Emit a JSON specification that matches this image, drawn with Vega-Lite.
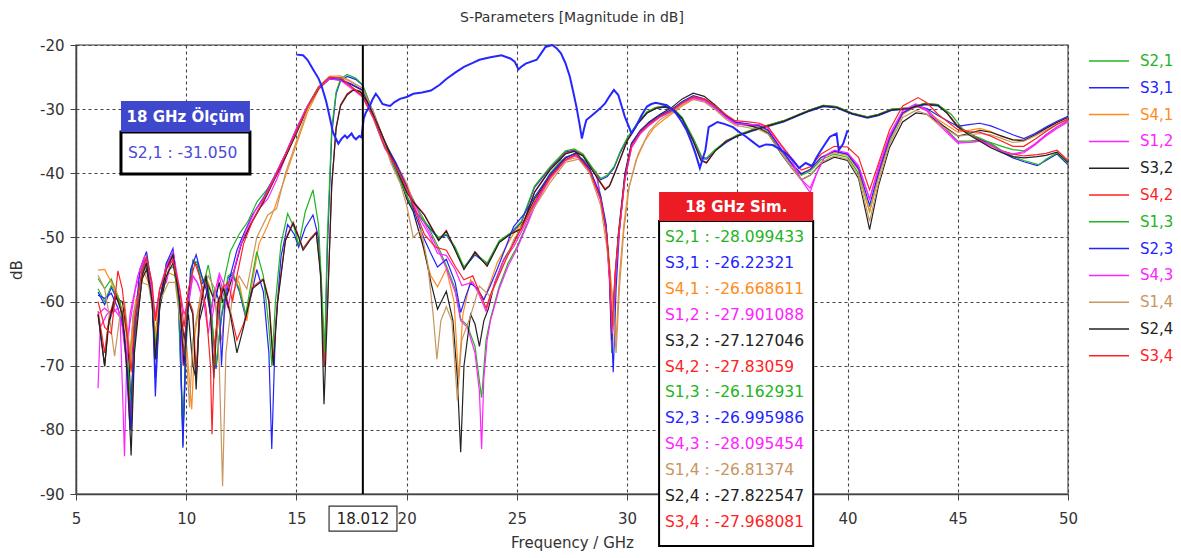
{
"$schema":"https://vega.github.io/schema/vega-lite/v6.json",
"width":992,"height":449,
"autosize":{"type":"none"},
"padding":{"left":76,"top":45,"right":113,"bottom":64},
"background":"white",
"title":{"text":"S-Parameters [Magnitude in dB]","fontSize":14,"fontWeight":"normal","color":"#333333","font":"DejaVu Sans","offset":19,"baseline":"bottom","frame":"group","anchor":"middle","dy":20},
"config":{
 "font":"DejaVu Sans",
 "view":{"stroke":"#7a7a7a","strokeWidth":1.5},
 "axis":{"labelFont":"DejaVu Sans","titleFont":"DejaVu Sans","labelFontSize":15,"titleFontSize":15,"titleFontWeight":"normal","labelColor":"#333333","titleColor":"#333333","domainColor":"#444444","domainWidth":1.5,"tickColor":"#444444","tickSize":6,"gridColor":"#444444","gridDash":[3,3],"gridWidth":1.1,"labelFlush":false,"labelOverlap":false},
 "axisX":{"labelPadding":11,"titlePadding":9},
 "axisY":{"labelPadding":6,"titlePadding":15}
},
"encoding":{
 "x":{"field":"f","type":"quantitative","scale":{"domain":[5,50],"nice":false,"zero":false},"title":"Frequency / GHz","axis":{"values":[5,10,15,20,25,30,35,40,45,50]}},
 "y":{"field":"v","type":"quantitative","scale":{"domain":[-90,-20],"nice":false,"zero":false},"title":"dB","axis":{"values":[-90,-80,-70,-60,-50,-40,-30,-20],"labelExpr":"replace(datum.label, '\u2212', '-')"}}
},
"datasets":{
"sim":[
{"s":"S2,1","f":6,"v":-56.4},{"s":"S2,1","f":6.3,"v":-58},{"s":"S2,1","f":6.6,"v":-56.5},{"s":"S2,1","f":7,"v":-60},{"s":"S2,1","f":7.4,"v":-72},{"s":"S2,1","f":7.6,"v":-62},{"s":"S2,1","f":8,"v":-55.5},{"s":"S2,1","f":8.2,"v":-54.6},{"s":"S2,1","f":8.5,"v":-60},{"s":"S2,1","f":8.65,"v":-69},{"s":"S2,1","f":8.8,"v":-60},{"s":"S2,1","f":9.2,"v":-55},{"s":"S2,1","f":9.45,"v":-54.5},{"s":"S2,1","f":9.7,"v":-62},{"s":"S2,1","f":9.85,"v":-82.5},{"s":"S2,1","f":10,"v":-62},{"s":"S2,1","f":10.3,"v":-54},{"s":"S2,1","f":10.5,"v":-53.8},{"s":"S2,1","f":10.8,"v":-57},{"s":"S2,1","f":11,"v":-54.3},{"s":"S2,1","f":11.2,"v":-58},{"s":"S2,1","f":11.45,"v":-63},{"s":"S2,1","f":11.7,"v":-57},{"s":"S2,1","f":12,"v":-52.2},{"s":"S2,1","f":12.4,"v":-49.5},{"s":"S2,1","f":12.8,"v":-47.5},{"s":"S2,1","f":13.2,"v":-44.5},{"s":"S2,1","f":13.65,"v":-42.6},{"s":"S2,1","f":14.1,"v":-40},{"s":"S2,1","f":14.5,"v":-37},{"s":"S2,1","f":15,"v":-33},{"s":"S2,1","f":15.5,"v":-29.5},{"s":"S2,1","f":16,"v":-26.5},{"s":"S2,1","f":16.5,"v":-25},{"s":"S2,1","f":17,"v":-25.2},{"s":"S2,1","f":17.5,"v":-26.5},{"s":"S2,1","f":18,"v":-28.1},{"s":"S2,1","f":18.5,"v":-31.5},{"s":"S2,1","f":19,"v":-36},{"s":"S2,1","f":19.5,"v":-38.7},{"s":"S2,1","f":20,"v":-42},{"s":"S2,1","f":20.5,"v":-45.5},{"s":"S2,1","f":21,"v":-48.5},{"s":"S2,1","f":21.5,"v":-52},{"s":"S2,1","f":21.8,"v":-54.4},{"s":"S2,1","f":22.2,"v":-58},{"s":"S2,1","f":22.45,"v":-62.7},{"s":"S2,1","f":22.75,"v":-63.7},{"s":"S2,1","f":23.1,"v":-67},{"s":"S2,1","f":23.4,"v":-75},{"s":"S2,1","f":23.6,"v":-66},{"s":"S2,1","f":23.8,"v":-62.7},{"s":"S2,1","f":24.2,"v":-57.6},{"s":"S2,1","f":24.6,"v":-54},{"s":"S2,1","f":25,"v":-51.5},{"s":"S2,1","f":25.5,"v":-47.5},{"s":"S2,1","f":26,"v":-43},{"s":"S2,1","f":26.5,"v":-40},{"s":"S2,1","f":27,"v":-38},{"s":"S2,1","f":27.6,"v":-37},{"s":"S2,1","f":28,"v":-37.8},{"s":"S2,1","f":28.6,"v":-39.8},{"s":"S2,1","f":29.05,"v":-48.5},{"s":"S2,1","f":29.2,"v":-56},{"s":"S2,1","f":29.3,"v":-68},{"s":"S2,1","f":29.45,"v":-58},{"s":"S2,1","f":29.6,"v":-50},{"s":"S2,1","f":29.9,"v":-40.5},{"s":"S2,1","f":30.2,"v":-35.5},{"s":"S2,1","f":30.6,"v":-33.5},{"s":"S2,1","f":31,"v":-32.2},{"s":"S2,1","f":31.5,"v":-31},{"s":"S2,1","f":32,"v":-30.2},{"s":"S2,1","f":32.5,"v":-28.9},{"s":"S2,1","f":33,"v":-28.1},{"s":"S2,1","f":33.5,"v":-28.6},{"s":"S2,1","f":34,"v":-29.8},{"s":"S2,1","f":34.5,"v":-31.3},{"s":"S2,1","f":34.9,"v":-32.2},{"s":"S2,1","f":35.5,"v":-32.6},{"s":"S2,1","f":36,"v":-32.9},{"s":"S2,1","f":36.4,"v":-33.6},{"s":"S2,1","f":37,"v":-36.6},{"s":"S2,1","f":37.5,"v":-38.9},{"s":"S2,1","f":37.9,"v":-40.3},{"s":"S2,1","f":38.3,"v":-39.7},{"s":"S2,1","f":38.8,"v":-37.9},{"s":"S2,1","f":39.4,"v":-37},{"s":"S2,1","f":40,"v":-37.5},{"s":"S2,1","f":40.5,"v":-40},{"s":"S2,1","f":41,"v":-46},{"s":"S2,1","f":41.4,"v":-40.5},{"s":"S2,1","f":41.9,"v":-35},{"s":"S2,1","f":42.5,"v":-30.8},{"s":"S2,1","f":43.1,"v":-29.3},{"s":"S2,1","f":43.6,"v":-30},{"s":"S2,1","f":44.1,"v":-31.8},{"s":"S2,1","f":45,"v":-35},{"s":"S2,1","f":45.5,"v":-35},{"s":"S2,1","f":46,"v":-34.8},{"s":"S2,1","f":46.5,"v":-35.2},{"s":"S2,1","f":47,"v":-35.8},{"s":"S2,1","f":47.5,"v":-36.3},{"s":"S2,1","f":48,"v":-36.5},{"s":"S2,1","f":48.5,"v":-35.5},{"s":"S2,1","f":49,"v":-34},{"s":"S2,1","f":49.5,"v":-32.8},{"s":"S2,1","f":50,"v":-31.8},
{"s":"S3,1","f":6,"v":-58.5},{"s":"S3,1","f":6.3,"v":-60.5},{"s":"S3,1","f":6.6,"v":-57.8},{"s":"S3,1","f":7,"v":-60.5},{"s":"S3,1","f":7.35,"v":-71},{"s":"S3,1","f":7.5,"v":-80},{"s":"S3,1","f":7.7,"v":-63},{"s":"S3,1","f":8,"v":-55.3},{"s":"S3,1","f":8.2,"v":-53.3},{"s":"S3,1","f":8.45,"v":-58.5},{"s":"S3,1","f":8.6,"v":-72},{"s":"S3,1","f":8.8,"v":-60.5},{"s":"S3,1","f":9.1,"v":-54.3},{"s":"S3,1","f":9.4,"v":-52.8},{"s":"S3,1","f":9.65,"v":-60.5},{"s":"S3,1","f":9.85,"v":-81},{"s":"S3,1","f":10.05,"v":-62.5},{"s":"S3,1","f":10.3,"v":-53.8},{"s":"S3,1","f":10.5,"v":-54.3},{"s":"S3,1","f":10.7,"v":-57.3},{"s":"S3,1","f":10.9,"v":-56.3},{"s":"S3,1","f":11.1,"v":-60.5},{"s":"S3,1","f":11.35,"v":-70.5},{"s":"S3,1","f":11.6,"v":-62.5},{"s":"S3,1","f":11.9,"v":-56.3},{"s":"S3,1","f":12.1,"v":-55.8},{"s":"S3,1","f":12.4,"v":-58.3},{"s":"S3,1","f":12.7,"v":-62.5},{"s":"S3,1","f":13,"v":-58.3},{"s":"S3,1","f":13.2,"v":-55},{"s":"S3,1","f":13.5,"v":-58.5},{"s":"S3,1","f":13.75,"v":-68},{"s":"S3,1","f":13.88,"v":-83},{"s":"S3,1","f":14.05,"v":-64},{"s":"S3,1","f":14.3,"v":-53},{"s":"S3,1","f":14.6,"v":-48},{"s":"S3,1","f":14.9,"v":-49.5},{"s":"S3,1","f":15.1,"v":-51.5},{"s":"S3,1","f":15.4,"v":-48.5},{"s":"S3,1","f":15.75,"v":-46.5},{"s":"S3,1","f":16,"v":-50},{"s":"S3,1","f":16.15,"v":-60},{"s":"S3,1","f":16.28,"v":-70},{"s":"S3,1","f":16.4,"v":-52},{"s":"S3,1","f":16.6,"v":-34},{"s":"S3,1","f":16.8,"v":-27.6},{"s":"S3,1","f":17,"v":-25.6},{"s":"S3,1","f":17.3,"v":-24.9},{"s":"S3,1","f":17.7,"v":-25.4},{"s":"S3,1","f":18,"v":-26.3},{"s":"S3,1","f":18.3,"v":-29},{"s":"S3,1","f":18.6,"v":-32},{"s":"S3,1","f":19,"v":-35.6},{"s":"S3,1","f":19.5,"v":-39.6},{"s":"S3,1","f":20,"v":-43.6},{"s":"S3,1","f":20.3,"v":-45.6},{"s":"S3,1","f":20.8,"v":-47.6},{"s":"S3,1","f":21.45,"v":-50.2},{"s":"S3,1","f":21.8,"v":-49.6},{"s":"S3,1","f":22.2,"v":-51.7},{"s":"S3,1","f":22.6,"v":-54.8},{"s":"S3,1","f":23.1,"v":-52.7},{"s":"S3,1","f":23.65,"v":-54.2},{"s":"S3,1","f":24.2,"v":-50.7},{"s":"S3,1","f":24.7,"v":-49.5},{"s":"S3,1","f":25.2,"v":-47.7},{"s":"S3,1","f":25.8,"v":-42.2},{"s":"S3,1","f":26.5,"v":-39.2},{"s":"S3,1","f":27.2,"v":-36.7},{"s":"S3,1","f":27.6,"v":-36.4},{"s":"S3,1","f":28,"v":-37.2},{"s":"S3,1","f":28.5,"v":-39.7},{"s":"S3,1","f":28.8,"v":-41},{"s":"S3,1","f":29.1,"v":-40.5},{"s":"S3,1","f":29.4,"v":-39.2},{"s":"S3,1","f":29.7,"v":-36.7},{"s":"S3,1","f":30,"v":-34.7},{"s":"S3,1","f":30.5,"v":-32.2},{"s":"S3,1","f":30.9,"v":-30.6},{"s":"S3,1","f":31.3,"v":-29.9},{"s":"S3,1","f":31.7,"v":-29.7},{"s":"S3,1","f":32.1,"v":-30.1},{"s":"S3,1","f":32.5,"v":-31.5},{"s":"S3,1","f":33,"v":-34.7},{"s":"S3,1","f":33.4,"v":-37.7},{"s":"S3,1","f":33.6,"v":-37.8},{"s":"S3,1","f":34,"v":-36.5},{"s":"S3,1","f":34.5,"v":-35.2},{"s":"S3,1","f":35,"v":-34.2},{"s":"S3,1","f":35.7,"v":-33.4},{"s":"S3,1","f":36.4,"v":-32.7},{"s":"S3,1","f":37.1,"v":-32},{"s":"S3,1","f":37.8,"v":-31},{"s":"S3,1","f":38.3,"v":-30.3},{"s":"S3,1","f":38.9,"v":-29.6},{"s":"S3,1","f":39.5,"v":-29.8},{"s":"S3,1","f":40.2,"v":-30.8},{"s":"S3,1","f":40.9,"v":-31.4},{"s":"S3,1","f":41.4,"v":-31},{"s":"S3,1","f":42,"v":-30.2},{"s":"S3,1","f":42.8,"v":-30},{"s":"S3,1","f":43.5,"v":-29.3},{"s":"S3,1","f":44.1,"v":-29.5},{"s":"S3,1","f":44.5,"v":-30.5},{"s":"S3,1","f":45,"v":-32.7},{"s":"S3,1","f":45.5,"v":-33.7},{"s":"S3,1","f":46,"v":-34.7},{"s":"S3,1","f":46.5,"v":-35.5},{"s":"S3,1","f":47,"v":-36.7},{"s":"S3,1","f":47.5,"v":-37.6},{"s":"S3,1","f":48,"v":-38.2},{"s":"S3,1","f":48.6,"v":-38.8},{"s":"S3,1","f":49,"v":-38},{"s":"S3,1","f":49.5,"v":-37},{"s":"S3,1","f":50,"v":-38.7},
{"s":"S4,1","f":6,"v":-55.1},{"s":"S4,1","f":6.3,"v":-55},{"s":"S4,1","f":6.6,"v":-57},{"s":"S4,1","f":6.9,"v":-59},{"s":"S4,1","f":7.2,"v":-63},{"s":"S4,1","f":7.45,"v":-70},{"s":"S4,1","f":7.7,"v":-60},{"s":"S4,1","f":8.1,"v":-55.5},{"s":"S4,1","f":8.4,"v":-58},{"s":"S4,1","f":8.6,"v":-65},{"s":"S4,1","f":8.8,"v":-59},{"s":"S4,1","f":9.2,"v":-55.5},{"s":"S4,1","f":9.5,"v":-56},{"s":"S4,1","f":9.75,"v":-63},{"s":"S4,1","f":10,"v":-66},{"s":"S4,1","f":10.25,"v":-76.8},{"s":"S4,1","f":10.4,"v":-65},{"s":"S4,1","f":10.7,"v":-58},{"s":"S4,1","f":11,"v":-57},{"s":"S4,1","f":11.3,"v":-60},{"s":"S4,1","f":11.6,"v":-66},{"s":"S4,1","f":11.8,"v":-60},{"s":"S4,1","f":12.1,"v":-56},{"s":"S4,1","f":12.4,"v":-57},{"s":"S4,1","f":12.75,"v":-63},{"s":"S4,1","f":13,"v":-57},{"s":"S4,1","f":13.3,"v":-51},{"s":"S4,1","f":13.65,"v":-48.5},{"s":"S4,1","f":14,"v":-45.5},{"s":"S4,1","f":14.3,"v":-42.5},{"s":"S4,1","f":14.7,"v":-38.5},{"s":"S4,1","f":15.1,"v":-34.5},{"s":"S4,1","f":15.5,"v":-30.5},{"s":"S4,1","f":16,"v":-27},{"s":"S4,1","f":16.5,"v":-25.2},{"s":"S4,1","f":17,"v":-25},{"s":"S4,1","f":17.5,"v":-25.8},{"s":"S4,1","f":18,"v":-26.7},{"s":"S4,1","f":18.5,"v":-30.5},{"s":"S4,1","f":19,"v":-35},{"s":"S4,1","f":19.5,"v":-38.3},{"s":"S4,1","f":20,"v":-41.5},{"s":"S4,1","f":20.5,"v":-46.5},{"s":"S4,1","f":20.8,"v":-52.4},{"s":"S4,1","f":21.1,"v":-56},{"s":"S4,1","f":21.4,"v":-57.7},{"s":"S4,1","f":21.8,"v":-54.9},{"s":"S4,1","f":22.15,"v":-60},{"s":"S4,1","f":22.35,"v":-72},{"s":"S4,1","f":22.55,"v":-62},{"s":"S4,1","f":22.9,"v":-56.6},{"s":"S4,1","f":23.2,"v":-58},{"s":"S4,1","f":23.5,"v":-59.7},{"s":"S4,1","f":23.8,"v":-57},{"s":"S4,1","f":24.1,"v":-54},{"s":"S4,1","f":24.5,"v":-51.5},{"s":"S4,1","f":24.85,"v":-49.4},{"s":"S4,1","f":25.3,"v":-47.5},{"s":"S4,1","f":25.8,"v":-45},{"s":"S4,1","f":26.5,"v":-41},{"s":"S4,1","f":27.2,"v":-38},{"s":"S4,1","f":27.8,"v":-37.5},{"s":"S4,1","f":28.3,"v":-39.5},{"s":"S4,1","f":28.8,"v":-44},{"s":"S4,1","f":29.1,"v":-50},{"s":"S4,1","f":29.35,"v":-60},{"s":"S4,1","f":29.5,"v":-66},{"s":"S4,1","f":29.65,"v":-56},{"s":"S4,1","f":29.85,"v":-48},{"s":"S4,1","f":30.05,"v":-42.7},{"s":"S4,1","f":30.4,"v":-38},{"s":"S4,1","f":30.8,"v":-35},{"s":"S4,1","f":31.2,"v":-33},{"s":"S4,1","f":31.6,"v":-31.8},{"s":"S4,1","f":32,"v":-30.8},{"s":"S4,1","f":32.5,"v":-29.5},{"s":"S4,1","f":33,"v":-28.5},{"s":"S4,1","f":33.5,"v":-28.6},{"s":"S4,1","f":34,"v":-29.6},{"s":"S4,1","f":34.5,"v":-31},{"s":"S4,1","f":34.9,"v":-32},{"s":"S4,1","f":35.5,"v":-32.4},{"s":"S4,1","f":36,"v":-32.7},{"s":"S4,1","f":36.4,"v":-33.4},{"s":"S4,1","f":37,"v":-36.4},{"s":"S4,1","f":37.5,"v":-38.6},{"s":"S4,1","f":37.9,"v":-40},{"s":"S4,1","f":38.3,"v":-39.4},{"s":"S4,1","f":38.8,"v":-37.6},{"s":"S4,1","f":39.4,"v":-36.8},{"s":"S4,1","f":40,"v":-37.2},{"s":"S4,1","f":40.5,"v":-39.5},{"s":"S4,1","f":41,"v":-46},{"s":"S4,1","f":41.4,"v":-40.5},{"s":"S4,1","f":41.9,"v":-34.8},{"s":"S4,1","f":42.5,"v":-30.8},{"s":"S4,1","f":43.1,"v":-29.6},{"s":"S4,1","f":43.6,"v":-30.2},{"s":"S4,1","f":44.1,"v":-31.6},{"s":"S4,1","f":45,"v":-33.6},{"s":"S4,1","f":45.5,"v":-33.3},{"s":"S4,1","f":46,"v":-33},{"s":"S4,1","f":46.5,"v":-33.5},{"s":"S4,1","f":47,"v":-34.3},{"s":"S4,1","f":47.5,"v":-34.8},{"s":"S4,1","f":48,"v":-34.8},{"s":"S4,1","f":48.5,"v":-34},{"s":"S4,1","f":49,"v":-33},{"s":"S4,1","f":49.5,"v":-32},{"s":"S4,1","f":50,"v":-31.3},
{"s":"S1,2","f":6,"v":-73.5},{"s":"S1,2","f":6.1,"v":-64},{"s":"S1,2","f":6.4,"v":-62},{"s":"S1,2","f":6.7,"v":-61},{"s":"S1,2","f":7,"v":-62.5},{"s":"S1,2","f":7.12,"v":-75},{"s":"S1,2","f":7.2,"v":-84.1},{"s":"S1,2","f":7.32,"v":-66},{"s":"S1,2","f":7.7,"v":-58},{"s":"S1,2","f":8.1,"v":-53.5},{"s":"S1,2","f":8.4,"v":-57},{"s":"S1,2","f":8.55,"v":-63},{"s":"S1,2","f":8.8,"v":-58},{"s":"S1,2","f":9.1,"v":-57},{"s":"S1,2","f":9.35,"v":-53},{"s":"S1,2","f":9.55,"v":-56},{"s":"S1,2","f":9.7,"v":-60},{"s":"S1,2","f":9.85,"v":-70},{"s":"S1,2","f":10,"v":-63},{"s":"S1,2","f":10.3,"v":-56},{"s":"S1,2","f":10.5,"v":-57},{"s":"S1,2","f":10.7,"v":-59},{"s":"S1,2","f":10.9,"v":-57},{"s":"S1,2","f":11.15,"v":-63},{"s":"S1,2","f":11.5,"v":-56},{"s":"S1,2","f":11.7,"v":-59},{"s":"S1,2","f":11.9,"v":-61},{"s":"S1,2","f":12.2,"v":-55},{"s":"S1,2","f":12.5,"v":-51},{"s":"S1,2","f":12.9,"v":-48},{"s":"S1,2","f":13.3,"v":-45.5},{"s":"S1,2","f":13.7,"v":-44},{"s":"S1,2","f":14.1,"v":-41},{"s":"S1,2","f":14.5,"v":-37.5},{"s":"S1,2","f":15,"v":-33.5},{"s":"S1,2","f":15.5,"v":-29.8},{"s":"S1,2","f":16,"v":-26.8},{"s":"S1,2","f":16.5,"v":-25.2},{"s":"S1,2","f":17,"v":-25.4},{"s":"S1,2","f":17.5,"v":-26.6},{"s":"S1,2","f":18,"v":-27.9},{"s":"S1,2","f":18.5,"v":-31.2},{"s":"S1,2","f":19,"v":-35.8},{"s":"S1,2","f":19.5,"v":-38.8},{"s":"S1,2","f":20,"v":-42.2},{"s":"S1,2","f":20.5,"v":-45.8},{"s":"S1,2","f":21,"v":-49},{"s":"S1,2","f":21.5,"v":-52.5},{"s":"S1,2","f":21.8,"v":-54.8},{"s":"S1,2","f":22.2,"v":-58.5},{"s":"S1,2","f":22.45,"v":-63},{"s":"S1,2","f":22.75,"v":-64},{"s":"S1,2","f":23.1,"v":-68},{"s":"S1,2","f":23.3,"v":-74},{"s":"S1,2","f":23.4,"v":-83},{"s":"S1,2","f":23.5,"v":-72},{"s":"S1,2","f":23.65,"v":-66},{"s":"S1,2","f":23.8,"v":-63},{"s":"S1,2","f":24.2,"v":-58},{"s":"S1,2","f":24.6,"v":-54.5},{"s":"S1,2","f":25,"v":-51.8},{"s":"S1,2","f":25.5,"v":-47.8},{"s":"S1,2","f":26,"v":-43.5},{"s":"S1,2","f":26.5,"v":-40.3},{"s":"S1,2","f":27,"v":-38.3},{"s":"S1,2","f":27.6,"v":-37.2},{"s":"S1,2","f":28,"v":-38},{"s":"S1,2","f":28.6,"v":-40},{"s":"S1,2","f":29.05,"v":-49},{"s":"S1,2","f":29.2,"v":-57},{"s":"S1,2","f":29.3,"v":-67},{"s":"S1,2","f":29.45,"v":-57},{"s":"S1,2","f":29.6,"v":-50.5},{"s":"S1,2","f":29.9,"v":-41},{"s":"S1,2","f":30.2,"v":-36},{"s":"S1,2","f":30.6,"v":-33.8},{"s":"S1,2","f":31,"v":-32.5},{"s":"S1,2","f":31.5,"v":-31.2},{"s":"S1,2","f":32,"v":-30.4},{"s":"S1,2","f":32.5,"v":-29.1},{"s":"S1,2","f":33,"v":-28.3},{"s":"S1,2","f":33.5,"v":-28.7},{"s":"S1,2","f":34,"v":-29.9},{"s":"S1,2","f":34.5,"v":-31.4},{"s":"S1,2","f":34.9,"v":-32.3},{"s":"S1,2","f":35.5,"v":-32.5},{"s":"S1,2","f":36,"v":-32.6},{"s":"S1,2","f":36.4,"v":-33.3},{"s":"S1,2","f":37,"v":-36.3},{"s":"S1,2","f":37.5,"v":-38.8},{"s":"S1,2","f":38,"v":-41.5},{"s":"S1,2","f":38.3,"v":-43},{"s":"S1,2","f":38.6,"v":-40},{"s":"S1,2","f":39,"v":-37.2},{"s":"S1,2","f":39.4,"v":-36.5},{"s":"S1,2","f":40,"v":-37},{"s":"S1,2","f":40.5,"v":-39},{"s":"S1,2","f":41,"v":-44},{"s":"S1,2","f":41.4,"v":-39.5},{"s":"S1,2","f":41.9,"v":-34.3},{"s":"S1,2","f":42.5,"v":-30.5},{"s":"S1,2","f":43.1,"v":-29.4},{"s":"S1,2","f":43.6,"v":-30.3},{"s":"S1,2","f":44.1,"v":-32.3},{"s":"S1,2","f":45,"v":-35.3},{"s":"S1,2","f":45.5,"v":-35.2},{"s":"S1,2","f":46,"v":-35},{"s":"S1,2","f":46.5,"v":-35.5},{"s":"S1,2","f":47,"v":-36.5},{"s":"S1,2","f":47.5,"v":-37.1},{"s":"S1,2","f":48,"v":-36.8},{"s":"S1,2","f":48.5,"v":-35.6},{"s":"S1,2","f":49,"v":-34.2},{"s":"S1,2","f":49.5,"v":-33},{"s":"S1,2","f":50,"v":-32},
{"s":"S3,2","f":6,"v":-62},{"s":"S3,2","f":6.15,"v":-66},{"s":"S3,2","f":6.3,"v":-70.1},{"s":"S3,2","f":6.45,"v":-64},{"s":"S3,2","f":6.8,"v":-59.5},{"s":"S3,2","f":7.1,"v":-60},{"s":"S3,2","f":7.35,"v":-66},{"s":"S3,2","f":7.5,"v":-76},{"s":"S3,2","f":7.65,"v":-66},{"s":"S3,2","f":8,"v":-56.5},{"s":"S3,2","f":8.2,"v":-55},{"s":"S3,2","f":8.45,"v":-60},{"s":"S3,2","f":8.6,"v":-69},{"s":"S3,2","f":8.8,"v":-61},{"s":"S3,2","f":9.1,"v":-56},{"s":"S3,2","f":9.4,"v":-54},{"s":"S3,2","f":9.7,"v":-60},{"s":"S3,2","f":9.9,"v":-66},{"s":"S3,2","f":10.1,"v":-62},{"s":"S3,2","f":10.3,"v":-70},{"s":"S3,2","f":10.45,"v":-72},{"s":"S3,2","f":10.6,"v":-63},{"s":"S3,2","f":11,"v":-57.5},{"s":"S3,2","f":11.3,"v":-60},{"s":"S3,2","f":11.5,"v":-57},{"s":"S3,2","f":11.65,"v":-60},{"s":"S3,2","f":11.85,"v":-59},{"s":"S3,2","f":12.1,"v":-56},{"s":"S3,2","f":12.5,"v":-51},{"s":"S3,2","f":13,"v":-47.5},{"s":"S3,2","f":13.5,"v":-44.5},{"s":"S3,2","f":14,"v":-41},{"s":"S3,2","f":14.5,"v":-37.5},{"s":"S3,2","f":15,"v":-33.8},{"s":"S3,2","f":15.5,"v":-29.8},{"s":"S3,2","f":16,"v":-26.8},{"s":"S3,2","f":16.5,"v":-25.3},{"s":"S3,2","f":17,"v":-25.5},{"s":"S3,2","f":17.5,"v":-26.2},{"s":"S3,2","f":18,"v":-27.1},{"s":"S3,2","f":18.5,"v":-30.8},{"s":"S3,2","f":19,"v":-35.5},{"s":"S3,2","f":19.5,"v":-38.5},{"s":"S3,2","f":20,"v":-44},{"s":"S3,2","f":20.3,"v":-46},{"s":"S3,2","f":20.8,"v":-52},{"s":"S3,2","f":21.1,"v":-57},{"s":"S3,2","f":21.4,"v":-61.2},{"s":"S3,2","f":21.8,"v":-58.4},{"s":"S3,2","f":22.1,"v":-63},{"s":"S3,2","f":22.3,"v":-72},{"s":"S3,2","f":22.45,"v":-83.5},{"s":"S3,2","f":22.6,"v":-70},{"s":"S3,2","f":22.9,"v":-62},{"s":"S3,2","f":23.1,"v":-63.5},{"s":"S3,2","f":23.3,"v":-67},{"s":"S3,2","f":23.5,"v":-63},{"s":"S3,2","f":23.7,"v":-61.2},{"s":"S3,2","f":24,"v":-57},{"s":"S3,2","f":24.4,"v":-53.5},{"s":"S3,2","f":24.85,"v":-50.9},{"s":"S3,2","f":25.3,"v":-47.5},{"s":"S3,2","f":25.8,"v":-44},{"s":"S3,2","f":26.5,"v":-40.5},{"s":"S3,2","f":27.2,"v":-37.6},{"s":"S3,2","f":27.7,"v":-36.8},{"s":"S3,2","f":28.3,"v":-39.3},{"s":"S3,2","f":28.8,"v":-44},{"s":"S3,2","f":29.05,"v":-48.5},{"s":"S3,2","f":29.2,"v":-55},{"s":"S3,2","f":29.3,"v":-66},{"s":"S3,2","f":29.45,"v":-56},{"s":"S3,2","f":29.6,"v":-49.5},{"s":"S3,2","f":29.9,"v":-40},{"s":"S3,2","f":30.2,"v":-35.3},{"s":"S3,2","f":30.6,"v":-33.3},{"s":"S3,2","f":31,"v":-32},{"s":"S3,2","f":31.5,"v":-30.8},{"s":"S3,2","f":32,"v":-29.8},{"s":"S3,2","f":32.5,"v":-28.4},{"s":"S3,2","f":33,"v":-27.5},{"s":"S3,2","f":33.5,"v":-28},{"s":"S3,2","f":34,"v":-29.4},{"s":"S3,2","f":34.5,"v":-31},{"s":"S3,2","f":34.9,"v":-32},{"s":"S3,2","f":35.5,"v":-32.5},{"s":"S3,2","f":36,"v":-33},{"s":"S3,2","f":36.4,"v":-33.8},{"s":"S3,2","f":37,"v":-37},{"s":"S3,2","f":37.5,"v":-39.3},{"s":"S3,2","f":37.9,"v":-41},{"s":"S3,2","f":38.3,"v":-40.3},{"s":"S3,2","f":38.8,"v":-38.5},{"s":"S3,2","f":39.4,"v":-37.5},{"s":"S3,2","f":40,"v":-38},{"s":"S3,2","f":40.5,"v":-40.8},{"s":"S3,2","f":41,"v":-48.8},{"s":"S3,2","f":41.4,"v":-42},{"s":"S3,2","f":41.9,"v":-36},{"s":"S3,2","f":42.5,"v":-32},{"s":"S3,2","f":43.1,"v":-30.6},{"s":"S3,2","f":43.6,"v":-30.8},{"s":"S3,2","f":44.1,"v":-32},{"s":"S3,2","f":45,"v":-34.2},{"s":"S3,2","f":45.5,"v":-33.8},{"s":"S3,2","f":46,"v":-33.3},{"s":"S3,2","f":46.5,"v":-33.6},{"s":"S3,2","f":47,"v":-34.2},{"s":"S3,2","f":47.5,"v":-34.8},{"s":"S3,2","f":48,"v":-34.9},{"s":"S3,2","f":48.5,"v":-34},{"s":"S3,2","f":49,"v":-33},{"s":"S3,2","f":49.5,"v":-32.1},{"s":"S3,2","f":50,"v":-31.3},
{"s":"S4,2","f":6,"v":-61.5},{"s":"S4,2","f":6.3,"v":-68},{"s":"S4,2","f":6.5,"v":-62.5},{"s":"S4,2","f":6.8,"v":-58.7},{"s":"S4,2","f":7.1,"v":-61.5},{"s":"S4,2","f":7.35,"v":-71},{"s":"S4,2","f":7.5,"v":-78},{"s":"S4,2","f":7.65,"v":-67},{"s":"S4,2","f":8,"v":-55.7},{"s":"S4,2","f":8.2,"v":-53.8},{"s":"S4,2","f":8.45,"v":-59.5},{"s":"S4,2","f":8.6,"v":-68},{"s":"S4,2","f":8.8,"v":-59.7},{"s":"S4,2","f":9.1,"v":-54.8},{"s":"S4,2","f":9.4,"v":-52.6},{"s":"S4,2","f":9.7,"v":-59.5},{"s":"S4,2","f":9.9,"v":-68},{"s":"S4,2","f":10.1,"v":-59.5},{"s":"S4,2","f":10.3,"v":-61.5},{"s":"S4,2","f":10.45,"v":-71},{"s":"S4,2","f":10.6,"v":-61.5},{"s":"S4,2","f":10.9,"v":-55.8},{"s":"S4,2","f":11.1,"v":-61.5},{"s":"S4,2","f":11.25,"v":-70},{"s":"S4,2","f":11.45,"v":-59.7},{"s":"S4,2","f":11.7,"v":-57.8},{"s":"S4,2","f":12,"v":-61.5},{"s":"S4,2","f":12.3,"v":-66},{"s":"S4,2","f":12.6,"v":-63.5},{"s":"S4,2","f":13,"v":-57.8},{"s":"S4,2","f":13.5,"v":-56.4},{"s":"S4,2","f":13.75,"v":-59.7},{"s":"S4,2","f":13.95,"v":-69},{"s":"S4,2","f":14.15,"v":-59.7},{"s":"S4,2","f":14.5,"v":-50.3},{"s":"S4,2","f":14.85,"v":-47.6},{"s":"S4,2","f":15.1,"v":-49.8},{"s":"S4,2","f":15.3,"v":-51.7},{"s":"S4,2","f":15.6,"v":-50.3},{"s":"S4,2","f":15.9,"v":-49.1},{"s":"S4,2","f":16.1,"v":-55.5},{"s":"S4,2","f":16.25,"v":-70},{"s":"S4,2","f":16.4,"v":-61.5},{"s":"S4,2","f":16.6,"v":-41.8},{"s":"S4,2","f":16.8,"v":-32.8},{"s":"S4,2","f":17,"v":-29.3},{"s":"S4,2","f":17.3,"v":-27.6},{"s":"S4,2","f":17.6,"v":-26.9},{"s":"S4,2","f":17.9,"v":-27.2},{"s":"S4,2","f":18.2,"v":-28.7},{"s":"S4,2","f":18.5,"v":-30.9},{"s":"S4,2","f":19,"v":-34.9},{"s":"S4,2","f":19.5,"v":-38.9},{"s":"S4,2","f":20,"v":-42.9},{"s":"S4,2","f":20.3,"v":-44.4},{"s":"S4,2","f":20.8,"v":-46.4},{"s":"S4,2","f":21.45,"v":-50.4},{"s":"S4,2","f":21.8,"v":-48.9},{"s":"S4,2","f":22.2,"v":-51.9},{"s":"S4,2","f":22.6,"v":-54.9},{"s":"S4,2","f":23.1,"v":-52.2},{"s":"S4,2","f":23.65,"v":-54.4},{"s":"S4,2","f":24.2,"v":-50.7},{"s":"S4,2","f":24.7,"v":-49.4},{"s":"S4,2","f":25.2,"v":-48.6},{"s":"S4,2","f":25.8,"v":-42.9},{"s":"S4,2","f":26.5,"v":-39.4},{"s":"S4,2","f":27.2,"v":-36.9},{"s":"S4,2","f":27.6,"v":-36.5},{"s":"S4,2","f":28,"v":-37.2},{"s":"S4,2","f":28.5,"v":-39.9},{"s":"S4,2","f":29,"v":-42.4},{"s":"S4,2","f":29.2,"v":-41.9},{"s":"S4,2","f":29.5,"v":-39.4},{"s":"S4,2","f":30,"v":-34.9},{"s":"S4,2","f":30.5,"v":-32.1},{"s":"S4,2","f":30.9,"v":-30.5},{"s":"S4,2","f":31.3,"v":-29.8},{"s":"S4,2","f":31.7,"v":-29.5},{"s":"S4,2","f":32.1,"v":-29.9},{"s":"S4,2","f":32.5,"v":-31.4},{"s":"S4,2","f":33,"v":-34.9},{"s":"S4,2","f":33.35,"v":-37.9},{"s":"S4,2","f":33.6,"v":-38.3},{"s":"S4,2","f":34,"v":-36.4},{"s":"S4,2","f":34.5,"v":-34.9},{"s":"S4,2","f":35,"v":-34.1},{"s":"S4,2","f":35.7,"v":-33.2},{"s":"S4,2","f":36.4,"v":-32.5},{"s":"S4,2","f":37.1,"v":-31.8},{"s":"S4,2","f":37.8,"v":-30.8},{"s":"S4,2","f":38.3,"v":-30.1},{"s":"S4,2","f":38.9,"v":-29.4},{"s":"S4,2","f":39.5,"v":-29.6},{"s":"S4,2","f":40.2,"v":-30.6},{"s":"S4,2","f":40.9,"v":-31.2},{"s":"S4,2","f":41.4,"v":-30.8},{"s":"S4,2","f":42,"v":-30},{"s":"S4,2","f":42.8,"v":-29.8},{"s":"S4,2","f":43.5,"v":-29.1},{"s":"S4,2","f":44.1,"v":-29.3},{"s":"S4,2","f":44.5,"v":-30.5},{"s":"S4,2","f":45,"v":-32.6},{"s":"S4,2","f":45.5,"v":-33.8},{"s":"S4,2","f":46,"v":-34.8},{"s":"S4,2","f":46.5,"v":-35.7},{"s":"S4,2","f":47,"v":-36.5},{"s":"S4,2","f":47.5,"v":-37},{"s":"S4,2","f":48,"v":-37.3},{"s":"S4,2","f":48.6,"v":-37.1},{"s":"S4,2","f":49,"v":-36.9},{"s":"S4,2","f":49.5,"v":-36.4},{"s":"S4,2","f":50,"v":-38},
{"s":"S1,3","f":6,"v":-58},{"s":"S1,3","f":6.3,"v":-60},{"s":"S1,3","f":6.6,"v":-57.5},{"s":"S1,3","f":7,"v":-60},{"s":"S1,3","f":7.35,"v":-70},{"s":"S1,3","f":7.5,"v":-76},{"s":"S1,3","f":7.7,"v":-62},{"s":"S1,3","f":8,"v":-55},{"s":"S1,3","f":8.2,"v":-53},{"s":"S1,3","f":8.45,"v":-58},{"s":"S1,3","f":8.6,"v":-69},{"s":"S1,3","f":8.8,"v":-60},{"s":"S1,3","f":9.1,"v":-54},{"s":"S1,3","f":9.4,"v":-52.5},{"s":"S1,3","f":9.65,"v":-60},{"s":"S1,3","f":9.85,"v":-80},{"s":"S1,3","f":10.05,"v":-62},{"s":"S1,3","f":10.3,"v":-53.5},{"s":"S1,3","f":10.5,"v":-54},{"s":"S1,3","f":10.7,"v":-57},{"s":"S1,3","f":10.9,"v":-56},{"s":"S1,3","f":11.1,"v":-60},{"s":"S1,3","f":11.35,"v":-70},{"s":"S1,3","f":11.6,"v":-62},{"s":"S1,3","f":11.9,"v":-56},{"s":"S1,3","f":12.1,"v":-55.5},{"s":"S1,3","f":12.4,"v":-58},{"s":"S1,3","f":12.7,"v":-62},{"s":"S1,3","f":13,"v":-56},{"s":"S1,3","f":13.2,"v":-52.2},{"s":"S1,3","f":13.5,"v":-56},{"s":"S1,3","f":13.75,"v":-64},{"s":"S1,3","f":13.88,"v":-70},{"s":"S1,3","f":14.05,"v":-60},{"s":"S1,3","f":14.3,"v":-51},{"s":"S1,3","f":14.6,"v":-46.3},{"s":"S1,3","f":14.9,"v":-48.5},{"s":"S1,3","f":15.1,"v":-51.2},{"s":"S1,3","f":15.4,"v":-46},{"s":"S1,3","f":15.75,"v":-42.6},{"s":"S1,3","f":16,"v":-48},{"s":"S1,3","f":16.15,"v":-58},{"s":"S1,3","f":16.28,"v":-68},{"s":"S1,3","f":16.4,"v":-50},{"s":"S1,3","f":16.6,"v":-33},{"s":"S1,3","f":16.8,"v":-27.3},{"s":"S1,3","f":17,"v":-25.3},{"s":"S1,3","f":17.3,"v":-24.6},{"s":"S1,3","f":17.7,"v":-25.2},{"s":"S1,3","f":18,"v":-26.2},{"s":"S1,3","f":18.3,"v":-28.8},{"s":"S1,3","f":18.6,"v":-31.8},{"s":"S1,3","f":19,"v":-35.5},{"s":"S1,3","f":19.5,"v":-39.5},{"s":"S1,3","f":20,"v":-43.5},{"s":"S1,3","f":20.3,"v":-45.5},{"s":"S1,3","f":20.8,"v":-47.5},{"s":"S1,3","f":21.45,"v":-50},{"s":"S1,3","f":21.8,"v":-49.5},{"s":"S1,3","f":22.2,"v":-51.5},{"s":"S1,3","f":22.6,"v":-54.6},{"s":"S1,3","f":23.1,"v":-52.5},{"s":"S1,3","f":23.65,"v":-54},{"s":"S1,3","f":24.2,"v":-50.5},{"s":"S1,3","f":24.7,"v":-49.3},{"s":"S1,3","f":25.2,"v":-47.5},{"s":"S1,3","f":25.8,"v":-42},{"s":"S1,3","f":26.5,"v":-39},{"s":"S1,3","f":27.2,"v":-36.5},{"s":"S1,3","f":27.6,"v":-36.2},{"s":"S1,3","f":28,"v":-37},{"s":"S1,3","f":28.5,"v":-39.5},{"s":"S1,3","f":28.8,"v":-40.8},{"s":"S1,3","f":29.1,"v":-40.3},{"s":"S1,3","f":29.4,"v":-39},{"s":"S1,3","f":29.7,"v":-36.5},{"s":"S1,3","f":30,"v":-34.5},{"s":"S1,3","f":30.5,"v":-32},{"s":"S1,3","f":30.9,"v":-30.4},{"s":"S1,3","f":31.3,"v":-29.7},{"s":"S1,3","f":31.7,"v":-29.5},{"s":"S1,3","f":32.1,"v":-29.9},{"s":"S1,3","f":32.5,"v":-31.3},{"s":"S1,3","f":33,"v":-34.5},{"s":"S1,3","f":33.4,"v":-37.5},{"s":"S1,3","f":33.6,"v":-37.6},{"s":"S1,3","f":34,"v":-36.3},{"s":"S1,3","f":34.5,"v":-35},{"s":"S1,3","f":35,"v":-34},{"s":"S1,3","f":35.7,"v":-33.2},{"s":"S1,3","f":36.4,"v":-32.5},{"s":"S1,3","f":37.1,"v":-31.8},{"s":"S1,3","f":37.8,"v":-30.8},{"s":"S1,3","f":38.3,"v":-30.1},{"s":"S1,3","f":38.9,"v":-29.4},{"s":"S1,3","f":39.5,"v":-29.6},{"s":"S1,3","f":40.2,"v":-30.6},{"s":"S1,3","f":40.9,"v":-31.2},{"s":"S1,3","f":41.4,"v":-30.8},{"s":"S1,3","f":42,"v":-30},{"s":"S1,3","f":42.8,"v":-29.8},{"s":"S1,3","f":43.5,"v":-29.1},{"s":"S1,3","f":44.1,"v":-29.3},{"s":"S1,3","f":44.7,"v":-30.8},{"s":"S1,3","f":45.2,"v":-33},{"s":"S1,3","f":45.6,"v":-34},{"s":"S1,3","f":46,"v":-34.5},{"s":"S1,3","f":46.5,"v":-35.3},{"s":"S1,3","f":47,"v":-36.5},{"s":"S1,3","f":47.5,"v":-37.4},{"s":"S1,3","f":48,"v":-38},{"s":"S1,3","f":48.7,"v":-38.7},{"s":"S1,3","f":49,"v":-37.8},{"s":"S1,3","f":49.5,"v":-36.8},{"s":"S1,3","f":50,"v":-38.5},
{"s":"S2,3","f":6,"v":-59},{"s":"S2,3","f":6.3,"v":-59.5},{"s":"S2,3","f":6.6,"v":-58.7},{"s":"S2,3","f":6.9,"v":-61},{"s":"S2,3","f":7.2,"v":-65},{"s":"S2,3","f":7.45,"v":-80},{"s":"S2,3","f":7.65,"v":-64},{"s":"S2,3","f":7.9,"v":-55},{"s":"S2,3","f":8.2,"v":-52.2},{"s":"S2,3","f":8.45,"v":-58},{"s":"S2,3","f":8.6,"v":-74.8},{"s":"S2,3","f":8.8,"v":-60},{"s":"S2,3","f":9.1,"v":-54},{"s":"S2,3","f":9.4,"v":-51.7},{"s":"S2,3","f":9.7,"v":-60},{"s":"S2,3","f":9.85,"v":-82.8},{"s":"S2,3","f":10,"v":-65},{"s":"S2,3","f":10.2,"v":-55},{"s":"S2,3","f":10.45,"v":-52.7},{"s":"S2,3","f":10.7,"v":-56},{"s":"S2,3","f":10.9,"v":-58},{"s":"S2,3","f":11.1,"v":-62},{"s":"S2,3","f":11.3,"v":-58},{"s":"S2,3","f":11.5,"v":-60},{"s":"S2,3","f":11.6,"v":-70},{"s":"S2,3","f":11.75,"v":-60},{"s":"S2,3","f":12,"v":-56},{"s":"S2,3","f":12.3,"v":-52},{"s":"S2,3","f":12.6,"v":-49.5},{"s":"S2,3","f":13,"v":-46.5},{"s":"S2,3","f":13.5,"v":-43.8},{"s":"S2,3","f":14,"v":-40.5},{"s":"S2,3","f":14.5,"v":-37},{"s":"S2,3","f":15,"v":-33.2},{"s":"S2,3","f":15.5,"v":-29.6},{"s":"S2,3","f":16,"v":-26.6},{"s":"S2,3","f":16.5,"v":-25.2},{"s":"S2,3","f":17,"v":-25.4},{"s":"S2,3","f":17.5,"v":-26.1},{"s":"S2,3","f":18,"v":-27},{"s":"S2,3","f":18.5,"v":-30.6},{"s":"S2,3","f":19,"v":-35.2},{"s":"S2,3","f":19.5,"v":-38.3},{"s":"S2,3","f":20,"v":-42},{"s":"S2,3","f":20.4,"v":-46.5},{"s":"S2,3","f":20.8,"v":-50.3},{"s":"S2,3","f":21.1,"v":-52.5},{"s":"S2,3","f":21.4,"v":-54.6},{"s":"S2,3","f":21.8,"v":-53.4},{"s":"S2,3","f":22.2,"v":-57},{"s":"S2,3","f":22.45,"v":-61.7},{"s":"S2,3","f":22.7,"v":-59},{"s":"S2,3","f":22.9,"v":-57.1},{"s":"S2,3","f":23.2,"v":-58},{"s":"S2,3","f":23.5,"v":-59.7},{"s":"S2,3","f":23.8,"v":-57.5},{"s":"S2,3","f":24.1,"v":-55},{"s":"S2,3","f":24.5,"v":-51.5},{"s":"S2,3","f":24.85,"v":-48.3},{"s":"S2,3","f":25.3,"v":-46.5},{"s":"S2,3","f":25.8,"v":-43.7},{"s":"S2,3","f":26.5,"v":-40.2},{"s":"S2,3","f":27.2,"v":-37.5},{"s":"S2,3","f":27.7,"v":-36.9},{"s":"S2,3","f":28.3,"v":-39.3},{"s":"S2,3","f":28.8,"v":-43.5},{"s":"S2,3","f":29.05,"v":-48},{"s":"S2,3","f":29.2,"v":-56},{"s":"S2,3","f":29.37,"v":-71},{"s":"S2,3","f":29.5,"v":-58},{"s":"S2,3","f":29.65,"v":-49},{"s":"S2,3","f":29.9,"v":-40.3},{"s":"S2,3","f":30.2,"v":-35.4},{"s":"S2,3","f":30.6,"v":-33.4},{"s":"S2,3","f":31,"v":-32.1},{"s":"S2,3","f":31.5,"v":-30.9},{"s":"S2,3","f":32,"v":-30.1},{"s":"S2,3","f":32.5,"v":-28.8},{"s":"S2,3","f":33,"v":-27.9},{"s":"S2,3","f":33.5,"v":-28.4},{"s":"S2,3","f":34,"v":-29.6},{"s":"S2,3","f":34.5,"v":-31.1},{"s":"S2,3","f":34.9,"v":-32},{"s":"S2,3","f":35.5,"v":-32.3},{"s":"S2,3","f":36,"v":-32.6},{"s":"S2,3","f":36.4,"v":-33.3},{"s":"S2,3","f":37,"v":-36.3},{"s":"S2,3","f":37.5,"v":-38.6},{"s":"S2,3","f":37.9,"v":-40.1},{"s":"S2,3","f":38.3,"v":-39.4},{"s":"S2,3","f":38.8,"v":-37.5},{"s":"S2,3","f":39.4,"v":-36.6},{"s":"S2,3","f":40,"v":-37},{"s":"S2,3","f":40.5,"v":-39.3},{"s":"S2,3","f":41,"v":-45},{"s":"S2,3","f":41.4,"v":-40},{"s":"S2,3","f":41.9,"v":-34.6},{"s":"S2,3","f":42.5,"v":-30.6},{"s":"S2,3","f":43.1,"v":-29.5},{"s":"S2,3","f":43.6,"v":-29.9},{"s":"S2,3","f":44.1,"v":-31},{"s":"S2,3","f":45,"v":-32.7},{"s":"S2,3","f":45.5,"v":-32.4},{"s":"S2,3","f":46,"v":-32.2},{"s":"S2,3","f":46.5,"v":-32.6},{"s":"S2,3","f":47,"v":-33.3},{"s":"S2,3","f":47.5,"v":-34},{"s":"S2,3","f":48,"v":-34.6},{"s":"S2,3","f":48.5,"v":-33.8},{"s":"S2,3","f":49,"v":-32.8},{"s":"S2,3","f":49.5,"v":-31.9},{"s":"S2,3","f":50,"v":-31.1},
{"s":"S4,3","f":6,"v":-62},{"s":"S4,3","f":6.3,"v":-61},{"s":"S4,3","f":6.6,"v":-62},{"s":"S4,3","f":6.9,"v":-61},{"s":"S4,3","f":7.1,"v":-64},{"s":"S4,3","f":7.3,"v":-70},{"s":"S4,3","f":7.45,"v":-62},{"s":"S4,3","f":7.8,"v":-56},{"s":"S4,3","f":8.1,"v":-53},{"s":"S4,3","f":8.4,"v":-57},{"s":"S4,3","f":8.6,"v":-63},{"s":"S4,3","f":8.8,"v":-58},{"s":"S4,3","f":9.1,"v":-54.5},{"s":"S4,3","f":9.4,"v":-52.2},{"s":"S4,3","f":9.7,"v":-58},{"s":"S4,3","f":9.9,"v":-62},{"s":"S4,3","f":10.1,"v":-60},{"s":"S4,3","f":10.3,"v":-56},{"s":"S4,3","f":10.5,"v":-57},{"s":"S4,3","f":10.8,"v":-60},{"s":"S4,3","f":11,"v":-65},{"s":"S4,3","f":11.2,"v":-60},{"s":"S4,3","f":11.5,"v":-55.6},{"s":"S4,3","f":11.8,"v":-58},{"s":"S4,3","f":12.1,"v":-56},{"s":"S4,3","f":12.4,"v":-52},{"s":"S4,3","f":12.7,"v":-49},{"s":"S4,3","f":13.1,"v":-46},{"s":"S4,3","f":13.5,"v":-44},{"s":"S4,3","f":14,"v":-40.5},{"s":"S4,3","f":14.5,"v":-37},{"s":"S4,3","f":15,"v":-33},{"s":"S4,3","f":15.5,"v":-29.5},{"s":"S4,3","f":16,"v":-26.7},{"s":"S4,3","f":16.5,"v":-25.3},{"s":"S4,3","f":17,"v":-25.5},{"s":"S4,3","f":17.5,"v":-26.8},{"s":"S4,3","f":18,"v":-28.1},{"s":"S4,3","f":18.5,"v":-31.5},{"s":"S4,3","f":19,"v":-36},{"s":"S4,3","f":19.5,"v":-39},{"s":"S4,3","f":20,"v":-42.5},{"s":"S4,3","f":20.5,"v":-46.5},{"s":"S4,3","f":21,"v":-49.5},{"s":"S4,3","f":21.4,"v":-52.5},{"s":"S4,3","f":21.8,"v":-52.8},{"s":"S4,3","f":22.2,"v":-55},{"s":"S4,3","f":22.5,"v":-57.5},{"s":"S4,3","f":23,"v":-57},{"s":"S4,3","f":23.3,"v":-59},{"s":"S4,3","f":23.6,"v":-61.5},{"s":"S4,3","f":24,"v":-57},{"s":"S4,3","f":24.4,"v":-53.5},{"s":"S4,3","f":24.85,"v":-51.5},{"s":"S4,3","f":25.3,"v":-48.5},{"s":"S4,3","f":25.8,"v":-45},{"s":"S4,3","f":26.5,"v":-40.8},{"s":"S4,3","f":27.2,"v":-38},{"s":"S4,3","f":27.7,"v":-37.2},{"s":"S4,3","f":28.3,"v":-39.7},{"s":"S4,3","f":28.8,"v":-44.2},{"s":"S4,3","f":29.05,"v":-49},{"s":"S4,3","f":29.2,"v":-56},{"s":"S4,3","f":29.33,"v":-65},{"s":"S4,3","f":29.45,"v":-57},{"s":"S4,3","f":29.6,"v":-50.5},{"s":"S4,3","f":29.9,"v":-41},{"s":"S4,3","f":30.2,"v":-36},{"s":"S4,3","f":30.6,"v":-33.8},{"s":"S4,3","f":31,"v":-32.5},{"s":"S4,3","f":31.5,"v":-31.2},{"s":"S4,3","f":32,"v":-30.4},{"s":"S4,3","f":32.5,"v":-29.1},{"s":"S4,3","f":33,"v":-28.2},{"s":"S4,3","f":33.5,"v":-28.6},{"s":"S4,3","f":34,"v":-29.9},{"s":"S4,3","f":34.5,"v":-31.3},{"s":"S4,3","f":34.9,"v":-32.2},{"s":"S4,3","f":35.5,"v":-32.4},{"s":"S4,3","f":36,"v":-32.4},{"s":"S4,3","f":36.4,"v":-33},{"s":"S4,3","f":37,"v":-35.8},{"s":"S4,3","f":37.5,"v":-38.2},{"s":"S4,3","f":37.9,"v":-41},{"s":"S4,3","f":38.3,"v":-42.3},{"s":"S4,3","f":38.6,"v":-40},{"s":"S4,3","f":39,"v":-37.2},{"s":"S4,3","f":39.4,"v":-36.4},{"s":"S4,3","f":40,"v":-36.8},{"s":"S4,3","f":40.5,"v":-38.8},{"s":"S4,3","f":41,"v":-44},{"s":"S4,3","f":41.4,"v":-39},{"s":"S4,3","f":41.9,"v":-34},{"s":"S4,3","f":42.5,"v":-30.2},{"s":"S4,3","f":43.1,"v":-29.2},{"s":"S4,3","f":43.6,"v":-30.1},{"s":"S4,3","f":44.1,"v":-32},{"s":"S4,3","f":45,"v":-35.1},{"s":"S4,3","f":45.5,"v":-35.2},{"s":"S4,3","f":46,"v":-35},{"s":"S4,3","f":46.5,"v":-35.6},{"s":"S4,3","f":47,"v":-36.6},{"s":"S4,3","f":47.5,"v":-37},{"s":"S4,3","f":48,"v":-36.6},{"s":"S4,3","f":48.5,"v":-35.4},{"s":"S4,3","f":49,"v":-34},{"s":"S4,3","f":49.5,"v":-32.8},{"s":"S4,3","f":50,"v":-31.8},
{"s":"S1,4","f":6,"v":-55.9},{"s":"S1,4","f":6.3,"v":-58},{"s":"S1,4","f":6.5,"v":-62},{"s":"S1,4","f":6.75,"v":-68.5},{"s":"S1,4","f":7,"v":-62},{"s":"S1,4","f":7.2,"v":-60},{"s":"S1,4","f":7.45,"v":-68},{"s":"S1,4","f":7.6,"v":-62},{"s":"S1,4","f":8,"v":-57},{"s":"S1,4","f":8.3,"v":-57.5},{"s":"S1,4","f":8.55,"v":-63},{"s":"S1,4","f":8.8,"v":-60},{"s":"S1,4","f":9.2,"v":-57},{"s":"S1,4","f":9.5,"v":-57},{"s":"S1,4","f":9.75,"v":-64},{"s":"S1,4","f":10,"v":-68},{"s":"S1,4","f":10.15,"v":-76.5},{"s":"S1,4","f":10.3,"v":-66},{"s":"S1,4","f":10.7,"v":-58},{"s":"S1,4","f":11,"v":-56},{"s":"S1,4","f":11.3,"v":-58},{"s":"S1,4","f":11.5,"v":-70},{"s":"S1,4","f":11.65,"v":-88.8},{"s":"S1,4","f":11.8,"v":-68},{"s":"S1,4","f":12.1,"v":-59},{"s":"S1,4","f":12.4,"v":-56},{"s":"S1,4","f":12.75,"v":-58},{"s":"S1,4","f":13.2,"v":-50},{"s":"S1,4","f":13.7,"v":-46.5},{"s":"S1,4","f":14.1,"v":-45.5},{"s":"S1,4","f":14.5,"v":-40},{"s":"S1,4","f":15,"v":-35},{"s":"S1,4","f":15.5,"v":-30},{"s":"S1,4","f":16,"v":-26.5},{"s":"S1,4","f":16.5,"v":-24.9},{"s":"S1,4","f":17,"v":-24.8},{"s":"S1,4","f":17.5,"v":-25.7},{"s":"S1,4","f":18,"v":-26.8},{"s":"S1,4","f":18.5,"v":-30.5},{"s":"S1,4","f":19,"v":-35.5},{"s":"S1,4","f":19.3,"v":-38.5},{"s":"S1,4","f":19.7,"v":-41.5},{"s":"S1,4","f":20,"v":-45},{"s":"S1,4","f":20.3,"v":-50},{"s":"S1,4","f":20.65,"v":-48.8},{"s":"S1,4","f":20.95,"v":-54},{"s":"S1,4","f":21.2,"v":-62},{"s":"S1,4","f":21.37,"v":-69},{"s":"S1,4","f":21.55,"v":-63},{"s":"S1,4","f":21.8,"v":-60.8},{"s":"S1,4","f":22.05,"v":-63},{"s":"S1,4","f":22.3,"v":-75.4},{"s":"S1,4","f":22.5,"v":-66},{"s":"S1,4","f":22.9,"v":-62.2},{"s":"S1,4","f":23.3,"v":-57.6},{"s":"S1,4","f":23.8,"v":-59.2},{"s":"S1,4","f":24.3,"v":-55},{"s":"S1,4","f":24.85,"v":-50.4},{"s":"S1,4","f":25.3,"v":-47.8},{"s":"S1,4","f":25.8,"v":-45.3},{"s":"S1,4","f":26.5,"v":-41.5},{"s":"S1,4","f":27.2,"v":-38.3},{"s":"S1,4","f":27.8,"v":-37.8},{"s":"S1,4","f":28.3,"v":-40},{"s":"S1,4","f":28.8,"v":-45},{"s":"S1,4","f":29.1,"v":-52},{"s":"S1,4","f":29.35,"v":-60},{"s":"S1,4","f":29.5,"v":-68},{"s":"S1,4","f":29.65,"v":-58},{"s":"S1,4","f":29.85,"v":-49},{"s":"S1,4","f":30.1,"v":-42},{"s":"S1,4","f":30.5,"v":-37},{"s":"S1,4","f":31,"v":-33.5},{"s":"S1,4","f":31.5,"v":-31.6},{"s":"S1,4","f":32,"v":-30.6},{"s":"S1,4","f":32.5,"v":-29.3},{"s":"S1,4","f":33,"v":-28.5},{"s":"S1,4","f":33.5,"v":-28.9},{"s":"S1,4","f":34,"v":-30.1},{"s":"S1,4","f":34.5,"v":-31.6},{"s":"S1,4","f":34.9,"v":-32.5},{"s":"S1,4","f":35.5,"v":-32.9},{"s":"S1,4","f":36,"v":-33.2},{"s":"S1,4","f":36.4,"v":-33.9},{"s":"S1,4","f":37,"v":-36.9},{"s":"S1,4","f":37.5,"v":-39.3},{"s":"S1,4","f":37.9,"v":-41},{"s":"S1,4","f":38.3,"v":-40.3},{"s":"S1,4","f":38.8,"v":-38.3},{"s":"S1,4","f":39.4,"v":-37.3},{"s":"S1,4","f":40,"v":-37.8},{"s":"S1,4","f":40.5,"v":-40.5},{"s":"S1,4","f":41,"v":-47.5},{"s":"S1,4","f":41.4,"v":-41.5},{"s":"S1,4","f":41.9,"v":-35.5},{"s":"S1,4","f":42.5,"v":-31.3},{"s":"S1,4","f":43.1,"v":-30.2},{"s":"S1,4","f":43.6,"v":-30.8},{"s":"S1,4","f":44.1,"v":-32.3},{"s":"S1,4","f":45,"v":-34.2},{"s":"S1,4","f":45.5,"v":-34},{"s":"S1,4","f":46,"v":-33.8},{"s":"S1,4","f":46.5,"v":-34},{"s":"S1,4","f":47,"v":-34.6},{"s":"S1,4","f":47.5,"v":-35.2},{"s":"S1,4","f":48,"v":-35},{"s":"S1,4","f":48.5,"v":-34.2},{"s":"S1,4","f":49,"v":-33.3},{"s":"S1,4","f":49.5,"v":-32.3},{"s":"S1,4","f":50,"v":-31.5},
{"s":"S2,4","f":6,"v":-62},{"s":"S2,4","f":6.3,"v":-70},{"s":"S2,4","f":6.5,"v":-63},{"s":"S2,4","f":6.8,"v":-59},{"s":"S2,4","f":7.1,"v":-62},{"s":"S2,4","f":7.35,"v":-72},{"s":"S2,4","f":7.5,"v":-84},{"s":"S2,4","f":7.65,"v":-68},{"s":"S2,4","f":8,"v":-56},{"s":"S2,4","f":8.2,"v":-54},{"s":"S2,4","f":8.45,"v":-60},{"s":"S2,4","f":8.6,"v":-69},{"s":"S2,4","f":8.8,"v":-60},{"s":"S2,4","f":9.1,"v":-55},{"s":"S2,4","f":9.4,"v":-52.7},{"s":"S2,4","f":9.7,"v":-60},{"s":"S2,4","f":9.9,"v":-70},{"s":"S2,4","f":10.1,"v":-60},{"s":"S2,4","f":10.3,"v":-62},{"s":"S2,4","f":10.45,"v":-73.7},{"s":"S2,4","f":10.6,"v":-62},{"s":"S2,4","f":10.9,"v":-56},{"s":"S2,4","f":11.1,"v":-62},{"s":"S2,4","f":11.25,"v":-72},{"s":"S2,4","f":11.45,"v":-60},{"s":"S2,4","f":11.7,"v":-58},{"s":"S2,4","f":12,"v":-62},{"s":"S2,4","f":12.3,"v":-68},{"s":"S2,4","f":12.6,"v":-64},{"s":"S2,4","f":13,"v":-58},{"s":"S2,4","f":13.5,"v":-56.6},{"s":"S2,4","f":13.75,"v":-60},{"s":"S2,4","f":13.95,"v":-70},{"s":"S2,4","f":14.15,"v":-60},{"s":"S2,4","f":14.5,"v":-50.5},{"s":"S2,4","f":14.85,"v":-47.8},{"s":"S2,4","f":15.1,"v":-50},{"s":"S2,4","f":15.3,"v":-52},{"s":"S2,4","f":15.6,"v":-50.5},{"s":"S2,4","f":15.9,"v":-49.3},{"s":"S2,4","f":16.1,"v":-56},{"s":"S2,4","f":16.25,"v":-76},{"s":"S2,4","f":16.4,"v":-62},{"s":"S2,4","f":16.6,"v":-42},{"s":"S2,4","f":16.8,"v":-33},{"s":"S2,4","f":17,"v":-29.5},{"s":"S2,4","f":17.3,"v":-27.8},{"s":"S2,4","f":17.6,"v":-27},{"s":"S2,4","f":17.9,"v":-27.3},{"s":"S2,4","f":18.2,"v":-28.8},{"s":"S2,4","f":18.5,"v":-31},{"s":"S2,4","f":19,"v":-35},{"s":"S2,4","f":19.5,"v":-39},{"s":"S2,4","f":20,"v":-43},{"s":"S2,4","f":20.3,"v":-44.5},{"s":"S2,4","f":20.8,"v":-46.5},{"s":"S2,4","f":21.45,"v":-50.5},{"s":"S2,4","f":21.8,"v":-49},{"s":"S2,4","f":22.2,"v":-52},{"s":"S2,4","f":22.6,"v":-55},{"s":"S2,4","f":23.1,"v":-52.3},{"s":"S2,4","f":23.65,"v":-54.5},{"s":"S2,4","f":24.2,"v":-50.8},{"s":"S2,4","f":24.7,"v":-49.5},{"s":"S2,4","f":25.2,"v":-48.7},{"s":"S2,4","f":25.8,"v":-43},{"s":"S2,4","f":26.5,"v":-39.5},{"s":"S2,4","f":27.2,"v":-37},{"s":"S2,4","f":27.6,"v":-36.6},{"s":"S2,4","f":28,"v":-37.3},{"s":"S2,4","f":28.5,"v":-40},{"s":"S2,4","f":29,"v":-42.6},{"s":"S2,4","f":29.2,"v":-42},{"s":"S2,4","f":29.5,"v":-39.5},{"s":"S2,4","f":30,"v":-35},{"s":"S2,4","f":30.5,"v":-32.2},{"s":"S2,4","f":30.9,"v":-30.6},{"s":"S2,4","f":31.3,"v":-29.9},{"s":"S2,4","f":31.7,"v":-29.6},{"s":"S2,4","f":32.1,"v":-30},{"s":"S2,4","f":32.5,"v":-31.5},{"s":"S2,4","f":33,"v":-35},{"s":"S2,4","f":33.35,"v":-38},{"s":"S2,4","f":33.6,"v":-38.4},{"s":"S2,4","f":34,"v":-36.5},{"s":"S2,4","f":34.5,"v":-35},{"s":"S2,4","f":35,"v":-34.2},{"s":"S2,4","f":35.7,"v":-33.3},{"s":"S2,4","f":36.4,"v":-32.6},{"s":"S2,4","f":37.1,"v":-31.9},{"s":"S2,4","f":37.8,"v":-30.9},{"s":"S2,4","f":38.3,"v":-30.2},{"s":"S2,4","f":38.9,"v":-29.5},{"s":"S2,4","f":39.5,"v":-29.7},{"s":"S2,4","f":40.2,"v":-30.7},{"s":"S2,4","f":40.9,"v":-31.3},{"s":"S2,4","f":41.4,"v":-30.9},{"s":"S2,4","f":42,"v":-30.1},{"s":"S2,4","f":42.8,"v":-29.9},{"s":"S2,4","f":43.5,"v":-29.2},{"s":"S2,4","f":44.1,"v":-29.4},{"s":"S2,4","f":44.5,"v":-30.6},{"s":"S2,4","f":45,"v":-32.8},{"s":"S2,4","f":45.5,"v":-34},{"s":"S2,4","f":46,"v":-35},{"s":"S2,4","f":46.5,"v":-36},{"s":"S2,4","f":47,"v":-36.8},{"s":"S2,4","f":47.5,"v":-37.4},{"s":"S2,4","f":48,"v":-37.6},{"s":"S2,4","f":48.6,"v":-37.4},{"s":"S2,4","f":49,"v":-37.2},{"s":"S2,4","f":49.5,"v":-36.7},{"s":"S2,4","f":50,"v":-38.3},
{"s":"S3,4","f":6,"v":-60},{"s":"S3,4","f":6.3,"v":-64},{"s":"S3,4","f":6.6,"v":-65},{"s":"S3,4","f":6.9,"v":-55.2},{"s":"S3,4","f":7.1,"v":-58},{"s":"S3,4","f":7.35,"v":-66},{"s":"S3,4","f":7.5,"v":-71},{"s":"S3,4","f":7.65,"v":-63},{"s":"S3,4","f":8,"v":-55},{"s":"S3,4","f":8.2,"v":-53},{"s":"S3,4","f":8.45,"v":-57},{"s":"S3,4","f":8.6,"v":-63},{"s":"S3,4","f":8.8,"v":-58},{"s":"S3,4","f":9.1,"v":-55},{"s":"S3,4","f":9.4,"v":-53.5},{"s":"S3,4","f":9.7,"v":-58},{"s":"S3,4","f":9.9,"v":-64},{"s":"S3,4","f":10.1,"v":-58},{"s":"S3,4","f":10.4,"v":-54},{"s":"S3,4","f":10.6,"v":-56},{"s":"S3,4","f":10.9,"v":-61},{"s":"S3,4","f":11.1,"v":-70},{"s":"S3,4","f":11.17,"v":-80.7},{"s":"S3,4","f":11.3,"v":-66},{"s":"S3,4","f":11.6,"v":-58},{"s":"S3,4","f":11.9,"v":-57},{"s":"S3,4","f":12.1,"v":-60},{"s":"S3,4","f":12.3,"v":-56},{"s":"S3,4","f":12.6,"v":-51},{"s":"S3,4","f":13,"v":-47.5},{"s":"S3,4","f":13.5,"v":-44.2},{"s":"S3,4","f":14,"v":-40.8},{"s":"S3,4","f":14.5,"v":-37.2},{"s":"S3,4","f":15,"v":-33.5},{"s":"S3,4","f":15.5,"v":-29.7},{"s":"S3,4","f":16,"v":-26.6},{"s":"S3,4","f":16.5,"v":-25},{"s":"S3,4","f":17,"v":-25.1},{"s":"S3,4","f":17.5,"v":-26.5},{"s":"S3,4","f":18,"v":-28},{"s":"S3,4","f":18.5,"v":-31.3},{"s":"S3,4","f":19,"v":-35.8},{"s":"S3,4","f":19.5,"v":-38.9},{"s":"S3,4","f":20,"v":-42.3},{"s":"S3,4","f":20.3,"v":-45},{"s":"S3,4","f":20.8,"v":-49.5},{"s":"S3,4","f":21.3,"v":-51.5},{"s":"S3,4","f":21.8,"v":-52},{"s":"S3,4","f":22.2,"v":-54.5},{"s":"S3,4","f":22.6,"v":-56.6},{"s":"S3,4","f":23,"v":-56},{"s":"S3,4","f":23.3,"v":-58.5},{"s":"S3,4","f":23.6,"v":-61},{"s":"S3,4","f":23.85,"v":-58.5},{"s":"S3,4","f":24.1,"v":-56.6},{"s":"S3,4","f":24.5,"v":-53.5},{"s":"S3,4","f":24.85,"v":-50.9},{"s":"S3,4","f":25.3,"v":-48},{"s":"S3,4","f":25.8,"v":-44.5},{"s":"S3,4","f":26.5,"v":-40.6},{"s":"S3,4","f":27.2,"v":-37.9},{"s":"S3,4","f":27.7,"v":-37.1},{"s":"S3,4","f":28.3,"v":-39.6},{"s":"S3,4","f":28.8,"v":-44},{"s":"S3,4","f":29.05,"v":-49},{"s":"S3,4","f":29.2,"v":-55},{"s":"S3,4","f":29.33,"v":-64},{"s":"S3,4","f":29.45,"v":-56},{"s":"S3,4","f":29.6,"v":-50},{"s":"S3,4","f":29.9,"v":-40.7},{"s":"S3,4","f":30.2,"v":-35.7},{"s":"S3,4","f":30.6,"v":-33.6},{"s":"S3,4","f":31,"v":-32.3},{"s":"S3,4","f":31.5,"v":-31.1},{"s":"S3,4","f":32,"v":-30.3},{"s":"S3,4","f":32.5,"v":-29},{"s":"S3,4","f":33,"v":-28.1},{"s":"S3,4","f":33.5,"v":-28.4},{"s":"S3,4","f":34,"v":-29.5},{"s":"S3,4","f":34.5,"v":-30.9},{"s":"S3,4","f":34.9,"v":-31.8},{"s":"S3,4","f":35.5,"v":-32},{"s":"S3,4","f":36,"v":-32.2},{"s":"S3,4","f":36.4,"v":-32.8},{"s":"S3,4","f":37,"v":-35.6},{"s":"S3,4","f":37.5,"v":-37.8},{"s":"S3,4","f":37.9,"v":-39.5},{"s":"S3,4","f":38.3,"v":-39},{"s":"S3,4","f":38.8,"v":-37},{"s":"S3,4","f":39.4,"v":-35.8},{"s":"S3,4","f":40,"v":-35.9},{"s":"S3,4","f":40.5,"v":-37.5},{"s":"S3,4","f":41,"v":-42.6},{"s":"S3,4","f":41.4,"v":-38.5},{"s":"S3,4","f":41.9,"v":-33.3},{"s":"S3,4","f":42.5,"v":-29.5},{"s":"S3,4","f":43.2,"v":-28.2},{"s":"S3,4","f":43.6,"v":-29},{"s":"S3,4","f":44.1,"v":-30.8},{"s":"S3,4","f":45,"v":-33.2},{"s":"S3,4","f":45.5,"v":-33.5},{"s":"S3,4","f":46,"v":-33.6},{"s":"S3,4","f":46.5,"v":-34.2},{"s":"S3,4","f":47,"v":-35},{"s":"S3,4","f":47.5,"v":-35.8},{"s":"S3,4","f":48,"v":-35.8},{"s":"S3,4","f":48.5,"v":-34.7},{"s":"S3,4","f":49,"v":-33.5},{"s":"S3,4","f":49.5,"v":-32.4},{"s":"S3,4","f":50,"v":-31.6}
],
"meas":[
{"f":15,"v":-21.5},{"f":15.3,"v":-21.6},{"f":15.5,"v":-22.3},{"f":15.77,"v":-23.9},{"f":16,"v":-25.2},{"f":16.15,"v":-26.5},{"f":16.35,"v":-28.8},{"f":16.5,"v":-31.1},{"f":16.65,"v":-33.5},{"f":16.75,"v":-34.3},{"f":16.9,"v":-35.4},{"f":17.05,"v":-34.6},{"f":17.2,"v":-34.1},{"f":17.3,"v":-34.5},{"f":17.5,"v":-33.8},{"f":17.6,"v":-34.4},{"f":17.7,"v":-34.7},{"f":17.85,"v":-34.2},{"f":17.95,"v":-34.4},{"f":18.05,"v":-31.5},{"f":18.15,"v":-30.5},{"f":18.3,"v":-29.7},{"f":18.45,"v":-28.5},{"f":18.6,"v":-27.6},{"f":18.75,"v":-28.3},{"f":18.9,"v":-29.2},{"f":19.1,"v":-29.4},{"f":19.25,"v":-29.5},{"f":19.45,"v":-28.9},{"f":19.7,"v":-28.4},{"f":20,"v":-28.1},{"f":20.3,"v":-27.6},{"f":20.7,"v":-27.4},{"f":21.1,"v":-27.1},{"f":21.5,"v":-26.2},{"f":21.8,"v":-25.3},{"f":22.2,"v":-24.3},{"f":22.6,"v":-23.4},{"f":23,"v":-22.8},{"f":23.3,"v":-22.3},{"f":23.8,"v":-21.9},{"f":24.3,"v":-21.6},{"f":24.7,"v":-22.1},{"f":24.9,"v":-22.6},{"f":25.07,"v":-23.8},{"f":25.2,"v":-23.4},{"f":25.4,"v":-22.9},{"f":25.9,"v":-22.3},{"f":26.1,"v":-21.3},{"f":26.3,"v":-20.3},{"f":26.6,"v":-20},{"f":26.8,"v":-20.5},{"f":27,"v":-21.3},{"f":27.2,"v":-22.8},{"f":27.4,"v":-24.9},{"f":27.55,"v":-27.2},{"f":27.7,"v":-29.6},{"f":27.85,"v":-32.5},{"f":27.95,"v":-34.6},{"f":28.05,"v":-33},{"f":28.15,"v":-31.7},{"f":28.4,"v":-31},{"f":28.6,"v":-30.4},{"f":28.8,"v":-29.8},{"f":29,"v":-29.1},{"f":29.2,"v":-28},{"f":29.4,"v":-27},{"f":29.6,"v":-27.8},{"f":29.75,"v":-29.5},{"f":29.9,"v":-31.2},{"f":30.05,"v":-32.5},{"f":30.2,"v":-33.8},{"f":30.4,"v":-32.7},{"f":30.65,"v":-31},{"f":30.9,"v":-29.6},{"f":31.1,"v":-29.2},{"f":31.3,"v":-29},{"f":31.55,"v":-29.2},{"f":31.8,"v":-29.4},{"f":32,"v":-29.9},{"f":32.2,"v":-30.6},{"f":32.45,"v":-31.8},{"f":32.7,"v":-33.3},{"f":32.9,"v":-35},{"f":33.1,"v":-36.9},{"f":33.3,"v":-39.2},{"f":33.45,"v":-37.5},{"f":33.55,"v":-36.4},{"f":33.7,"v":-32.8},{"f":33.9,"v":-32.4},{"f":34.1,"v":-32},{"f":34.4,"v":-32.3},{"f":34.8,"v":-32.8},{"f":35.1,"v":-33.6},{"f":35.4,"v":-34.3},{"f":35.7,"v":-35.1},{"f":36,"v":-35.9},{"f":36.3,"v":-35.5},{"f":36.6,"v":-35.6},{"f":36.9,"v":-36.2},{"f":37.2,"v":-36.9},{"f":37.5,"v":-37.9},{"f":37.8,"v":-39.2},{"f":38.1,"v":-38.4},{"f":38.4,"v":-38.9},{"f":38.55,"v":-37.8},{"f":38.7,"v":-36.9},{"f":38.95,"v":-35.6},{"f":39.2,"v":-34.3},{"f":39.5,"v":-33.8},{"f":39.6,"v":-36.4},{"f":39.8,"v":-35.4},{"f":40,"v":-33.3}
],
"marker":[{"f":18.012,"v":-90,"v2":-20}],
"boxes":[
{"b":"mb","f":7.04,"f2":12.89,"v":-33.56,"v2":-40.11},
{"b":"mh","f":7.04,"f2":12.89,"v":-28.73,"v2":-33.56},
{"b":"sb","f":31.45,"f2":38.44,"v":-47.44,"v2":-98.11},
{"b":"sh","f":31.45,"f2":38.44,"v":-42.92,"v2":-47.44},
{"b":"kb","f":16.48,"f2":19.56,"v":-91.9,"v2":-95.8}
],
"notes":[
{"n":"h","t":"18 GHz Ölçüm","f":9.97,"v":-31.15},
{"n":"h","t":"18 GHz Sim.","f":34.95,"v":-45.18},
{"n":"m","t":"S2,1 : -31.050","f":7.36,"v":-36.84},
{"n":"k","t":"18.012","f":18.02,"v":-93.85}
],
"simtext":[
{"s":"S2,1","t":"S2,1 : -28.099433","f":31.72,"v":-49.9},
{"s":"S3,1","t":"S3,1 : -26.22321","f":31.72,"v":-54.0},
{"s":"S4,1","t":"S4,1 : -26.668611","f":31.72,"v":-58.0},
{"s":"S1,2","t":"S1,2 : -27.901088","f":31.72,"v":-62.1},
{"s":"S3,2","t":"S3,2 : -27.127046","f":31.72,"v":-66.1},
{"s":"S4,2","t":"S4,2 : -27.83059","f":31.72,"v":-70.2},
{"s":"S1,3","t":"S1,3 : -26.162931","f":31.72,"v":-74.1},
{"s":"S2,3","t":"S2,3 : -26.995986","f":31.72,"v":-78.2},
{"s":"S4,3","t":"S4,3 : -28.095454","f":31.72,"v":-82.2},
{"s":"S1,4","t":"S1,4 : -26.81374","f":31.72,"v":-86.3},
{"s":"S2,4","t":"S2,4 : -27.822547","f":31.72,"v":-90.3},
{"s":"S3,4","t":"S3,4 : -27.968081","f":31.72,"v":-94.4}
]
},
"layer":[
{"data":{"name":"sim"},
 "mark":{"type":"line","strokeWidth":1.2},
 "encoding":{"color":{"field":"s","type":"nominal",
   "scale":{"domain":["S2,1","S3,1","S4,1","S1,2","S3,2","S4,2","S1,3","S2,3","S4,3","S1,4","S2,4","S3,4"],
            "range":["#22b422","#2323ff","#ff8c1a","#ff22ff","#222222","#ff2222","#22b422","#2323ff","#ff22ff","#c8965f","#222222","#ff2222"]},
   "legend":{"title":null,"orient":"none","legendX":1012,"legendY":10,"padding":0,"symbolType":"stroke","symbolSize":1600,"symbolStrokeWidth":1.5,"labelFontSize":15,"labelFont":"DejaVu Sans","labelOffset":10,"clipHeight":12,"rowPadding":11.8,
     "encode":{"labels":{"update":{"fill":{"scale":"color","field":"value"}}}}}}}},
{"data":{"name":"meas"},"mark":{"type":"line","color":"#2626ff","strokeWidth":2}},
{"data":{"name":"marker"},"mark":{"type":"rule","color":"#000000","strokeWidth":2},"encoding":{"y2":{"field":"v2"}}},
{"data":{"name":"boxes"},"transform":[{"filter":"datum.b == 'mb'"}],"mark":{"type":"rect","fill":"#ffffff","stroke":"#000000","strokeWidth":3},"encoding":{"x2":{"field":"f2"},"y2":{"field":"v2"}}},
{"data":{"name":"boxes"},"transform":[{"filter":"datum.b == 'mh'"}],"mark":{"type":"rect","fill":"#3f48cc"},"encoding":{"x2":{"field":"f2"},"y2":{"field":"v2"}}},
{"data":{"name":"boxes"},"transform":[{"filter":"datum.b == 'sb'"}],"mark":{"type":"rect","fill":"#ffffff","stroke":"#000000","strokeWidth":2},"encoding":{"x2":{"field":"f2"},"y2":{"field":"v2"}}},
{"data":{"name":"boxes"},"transform":[{"filter":"datum.b == 'sh'"}],"mark":{"type":"rect","fill":"#ed1c24"},"encoding":{"x2":{"field":"f2"},"y2":{"field":"v2"}}},
{"data":{"name":"boxes"},"transform":[{"filter":"datum.b == 'kb'"}],"mark":{"type":"rect","fill":"#ffffff","stroke":"#333333","strokeWidth":1.2},"encoding":{"x2":{"field":"f2"},"y2":{"field":"v2"}}},
{"data":{"name":"notes"},"transform":[{"filter":"datum.n == 'h'"}],"mark":{"type":"text","color":"#ffffff","fontWeight":"bold","fontSize":15,"font":"DejaVu Sans","align":"center","baseline":"middle"},"encoding":{"text":{"field":"t"}}},
{"data":{"name":"notes"},"transform":[{"filter":"datum.n == 'm'"}],"mark":{"type":"text","color":"#4b4bd6","fontSize":15.5,"font":"DejaVu Sans","align":"left","baseline":"middle"},"encoding":{"text":{"field":"t"}}},
{"data":{"name":"notes"},"transform":[{"filter":"datum.n == 'k'"}],"mark":{"type":"text","color":"#222222","fontSize":15,"font":"DejaVu Sans","align":"center","baseline":"middle"},"encoding":{"text":{"field":"t"}}},
{"data":{"name":"simtext"},"mark":{"type":"text","fontSize":15.5,"font":"DejaVu Sans","align":"left","baseline":"middle"},
 "encoding":{"text":{"field":"t"},"color":{"field":"s","type":"nominal","legend":null}}}
]
}
